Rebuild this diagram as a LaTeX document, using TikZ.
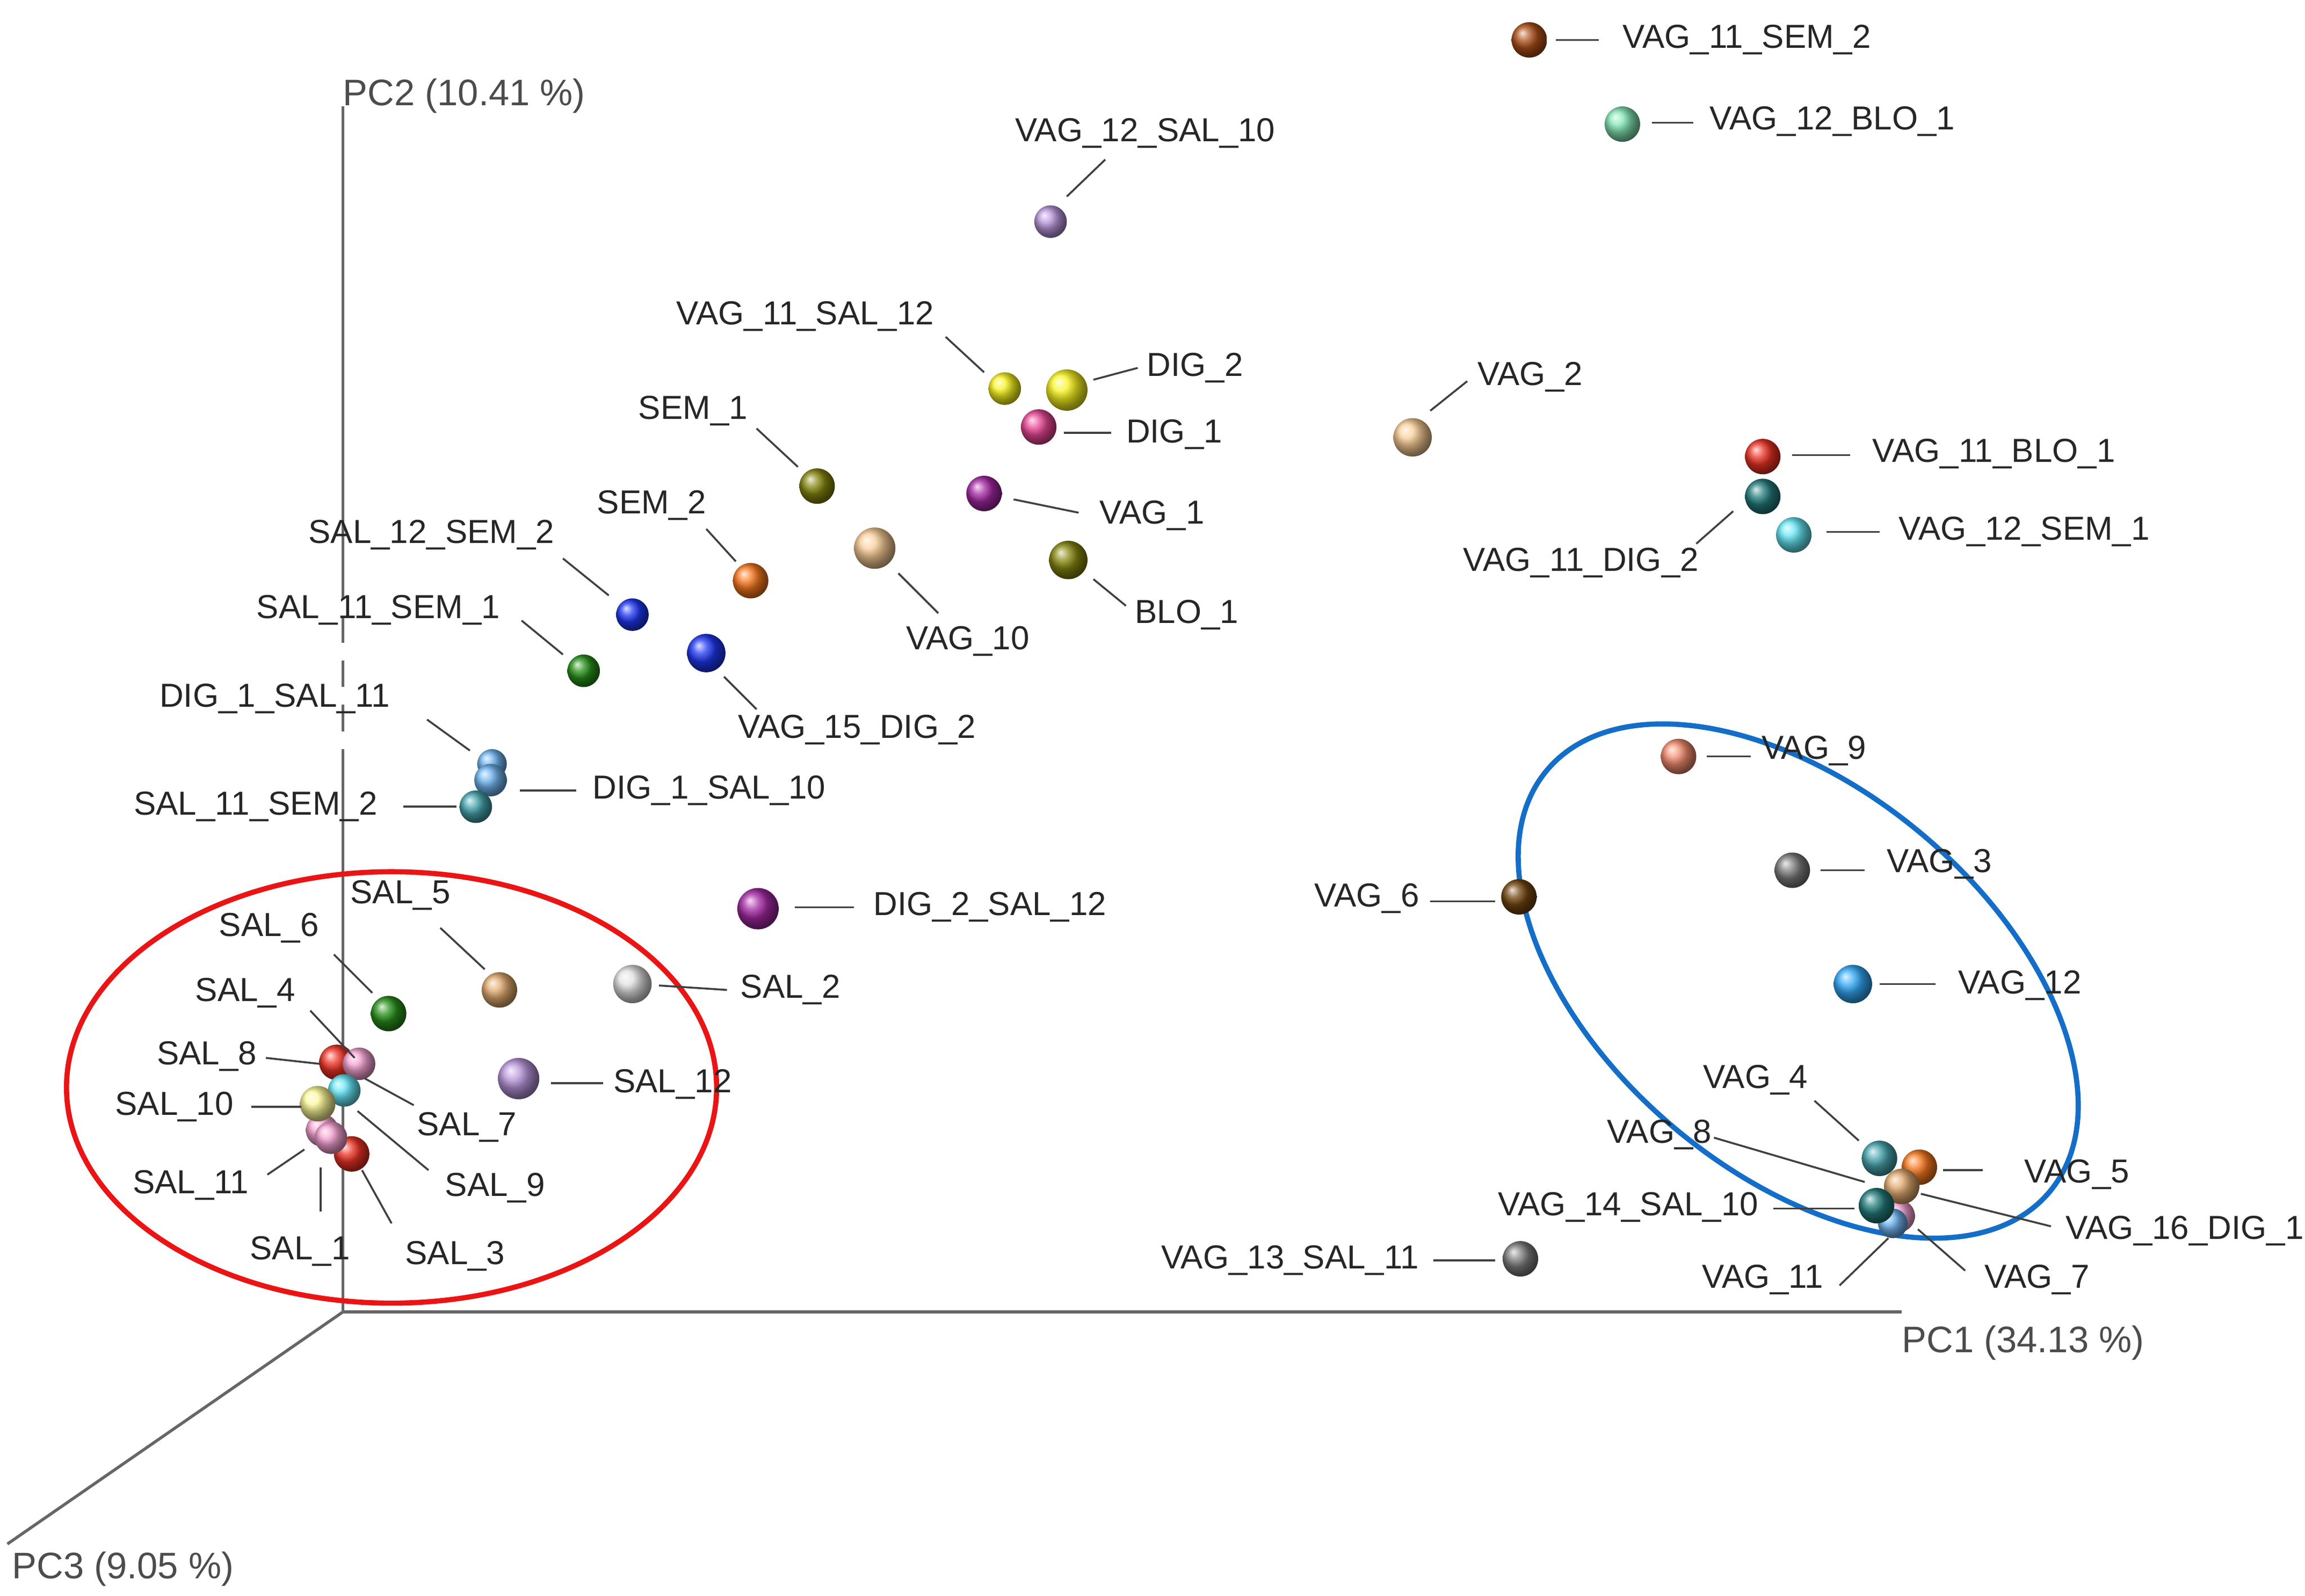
\documentclass[tikz,border=0pt]{standalone}
\usepackage{fontspec}
\setmainfont{Liberation Sans}
\begin{document}
\begin{tikzpicture}[x=1pt,y=-1pt,
  lab/.style={font=\fontsize{22.5}{24}\selectfont,text=black!85,inner sep=0pt},
  axlab/.style={font=\fontsize{25}{27}\selectfont,text=black!70,inner sep=0pt,anchor=west},
  lead/.style={draw=black!75,line width=1.3pt},
  axis/.style={draw=black!60,line width=2pt}]
\useasboundingbox (0,0) rectangle (1560,1080);
\newcommand\ball[3]{\shade[ball color=#2] (#1) circle (#3);}
\definecolor{cbrown}{RGB}{175,80,25}
\definecolor{cmint}{RGB}{130,230,180}
\definecolor{clav}{RGB}{185,150,220}
\definecolor{cyel}{RGB}{250,245,30}
\definecolor{cpink}{RGB}{235,70,150}
\definecolor{cpeach}{RGB}{250,205,150}
\definecolor{cred}{RGB}{240,50,35}
\definecolor{cteal}{RGB}{35,125,125}
\definecolor{ccyan}{RGB}{100,230,245}
\definecolor{colive}{RGB}{135,135,15}
\definecolor{cpurple}{RGB}{165,40,165}
\definecolor{corange}{RGB}{250,120,30}
\definecolor{cblue}{RGB}{30,55,245}
\definecolor{cgreen}{RGB}{40,145,25}
\definecolor{clblue}{RGB}{110,180,240}
\definecolor{cteal2}{RGB}{70,165,175}
\definecolor{ctan}{RGB}{225,170,110}
\definecolor{cgray}{RGB}{225,225,225}
\definecolor{clpink}{RGB}{245,160,210}
\definecolor{clyel}{RGB}{252,248,150}
\definecolor{csalmon}{RGB}{245,140,110}
\definecolor{cdgray}{RGB}{125,125,125}
\definecolor{cdbrown}{RGB}{115,70,15}
\definecolor{csky}{RGB}{50,170,250}
\definecolor{ringred}{RGB}{235,20,20}
\definecolor{ringblue}{RGB}{20,110,200}
% axes
\coordinate (O) at (232,888);
\coordinate (Y) at (232,72);
\coordinate (X) at (1287,888);
\coordinate (Z) at (5,1045);
\draw[axis] (O) -- (232,525);
\draw[axis,dash pattern=on 18pt off 12pt] (232,525) -- (232,400);
\draw[axis] (232,400) -- (Y);
\draw[axis] (O) -- (X);
\draw[axis] (O) -- (Z);
\node[axlab] (l2) at (232,65) {PC2 (10.41 \%)};
\node[axlab] (l1) at (1287,909) {PC1 (34.13 \%)};
\node[axlab] (l3) at (8,1062) {PC3 (9.05 \%)};
% rings
\draw[ringred,line width=3.5pt] (265,736) ellipse [x radius=220,y radius=146];
\draw[ringblue,line width=3.5pt,rotate around={-40:(1217,664)}] (1217,664) ellipse [x radius=222,y radius=130];
% balls
\ball{1035,27}{cbrown}{12}
\ball{1098,84}{cmint}{12}
\ball{711,150}{clav}{11}
\ball{680,263}{cyel}{11}
\ball{722,264}{cyel}{14}
\ball{703,289}{cpink}{12}
\ball{956,296}{cpeach}{13}
\ball{1193,309}{cred}{12}
\ball{1193,336}{cteal}{12}
\ball{1214,362}{ccyan}{12}
\ball{553,329}{colive}{12}
\ball{666,334}{cpurple}{12}
\ball{508,393}{corange}{12}
\ball{592,371}{cpeach}{14}
\ball{723,379}{colive}{13}
\ball{428,416}{cblue}{11}
\ball{395,454}{cgreen}{11}
\ball{478,442}{cblue}{13}
\ball{333,517}{clblue}{10}
\ball{332,528}{clblue}{11}
\ball{322,546}{cteal2}{11}
\ball{513,615}{cpurple}{14}
\ball{338,670}{ctan}{12}
\ball{263,686}{cgreen}{12}
\ball{428,666}{cgray}{13}
\ball{351,730}{clav}{14}
\ball{228,719}{cred}{12}
\ball{243,720}{clpink}{11}
\ball{238,781}{cred}{12}
\ball{218,765}{clpink}{11}
\ball{224,770}{clpink}{11}
\ball{233,738}{ccyan}{11}
\ball{215,747}{clyel}{12}
\ball{1136,512}{csalmon}{12}
\ball{1213,589}{cdgray}{12}
\ball{1028,607}{cdbrown}{12}
\ball{1254,666}{csky}{13}
\ball{1272,784}{cteal2}{12}
\ball{1299,790}{corange}{12}
\ball{1285,823}{clpink}{11}
\ball{1281,828}{clblue}{10}
\ball{1287,803}{ctan}{12}
\ball{1270,816}{cteal}{12}
\ball{1029,852}{cdgray}{12}
% labels and leaders
\newcommand\lbl[5]{\node[lab,anchor=#2] at (#1) {#3}; \draw[lead] (#4) -- (#5);}
\lbl{1098,27}{west}{VAG\_11\_SEM\_2}{1053,27}{1082,27}
\lbl{1157,82}{west}{VAG\_12\_BLO\_1}{1118,83}{1146,83}
\lbl{775,90}{center}{VAG\_12\_SAL\_10}{722,133}{748,108}
\lbl{545,214}{center}{VAG\_11\_SAL\_12}{640,228}{666,252}
\lbl{776,249}{west}{DIG\_2}{740,257}{770,249}
\lbl{762,294}{west}{DIG\_1}{720,293}{752,293}
\lbl{1000,255}{west}{VAG\_2}{968,278}{993,258}
\lbl{1267,307}{west}{VAG\_11\_BLO\_1}{1213,308}{1252,308}
\lbl{1070,381}{center}{VAG\_11\_DIG\_2}{1148,368}{1173,346}
\lbl{1285,360}{west}{VAG\_12\_SEM\_1}{1236,360}{1272,360}
\lbl{469,278}{center}{SEM\_1}{512,290}{540,316}
\lbl{744,349}{west}{VAG\_1}{686,338}{730,347}
\lbl{441,342}{center}{SEM\_2}{478,358}{498,380}
\lbl{655,434}{center}{VAG\_10}{608,388}{635,415}
\lbl{768,416}{west}{BLO\_1}{740,392}{762,410}
\lbl{292,362}{center}{SAL\_12\_SEM\_2}{381,378}{412,403}
\lbl{256,413}{center}{SAL\_11\_SEM\_1}{353,420}{381,443}
\lbl{580,494}{center}{VAG\_15\_DIG\_2}{490,458}{512,480}
\lbl{186,473}{center}{DIG\_1\_SAL\_11}{289,487}{318,508}
\lbl{401,535}{west}{DIG\_1\_SAL\_10}{352,535}{390,535}
\lbl{173,546}{center}{SAL\_11\_SEM\_2}{273,546}{309,546}
\lbl{591,614}{west}{DIG\_2\_SAL\_12}{538,614}{578,614}
\lbl{271,606}{center}{SAL\_5}{298,628}{328,656}
\lbl{182,628}{center}{SAL\_6}{226,646}{252,672}
\lbl{501,670}{west}{SAL\_2}{446,667}{492,670}
\lbl{166,672}{center}{SAL\_4}{210,684}{240,716}
\lbl{140,715}{center}{SAL\_8}{180,716}{216,720}
\lbl{118,749}{center}{SAL\_10}{170,749}{204,749}
\lbl{129,802}{center}{SAL\_11}{181,795}{206,778}
\lbl{203,847}{center}{SAL\_1}{217,820}{217,790}
\lbl{308,850}{center}{SAL\_3}{265,828}{245,792}
\lbl{335,804}{center}{SAL\_9}{290,792}{242,752}
\lbl{316,763}{center}{SAL\_7}{280,748}{247,730}
\lbl{415,734}{west}{SAL\_12}{373,733}{408,733}
\lbl{1192,508}{west}{VAG\_9}{1155,512}{1185,512}
\lbl{1277,585}{west}{VAG\_3}{1232,589}{1262,589}
\lbl{925,608}{center}{VAG\_6}{968,610}{1012,610}
\lbl{1325,667}{west}{VAG\_12}{1272,666}{1310,666}
\lbl{1188,731}{center}{VAG\_4}{1228,745}{1258,772}
\lbl{1123,768}{center}{VAG\_8}{1160,770}{1262,800}
\lbl{1370,795}{west}{VAG\_5}{1315,792}{1342,792}
\lbl{1398,833}{west}{VAG\_16\_DIG\_1}{1300,808}{1388,830}
\lbl{1102,817}{center}{VAG\_14\_SAL\_10}{1200,818}{1255,818}
\lbl{1343,866}{west}{VAG\_7}{1298,832}{1330,860}
\lbl{1193,866}{center}{VAG\_11}{1245,870}{1278,838}
\lbl{873,853}{center}{VAG\_13\_SAL\_11}{970,853}{1012,853}
\end{tikzpicture}
\end{document}
